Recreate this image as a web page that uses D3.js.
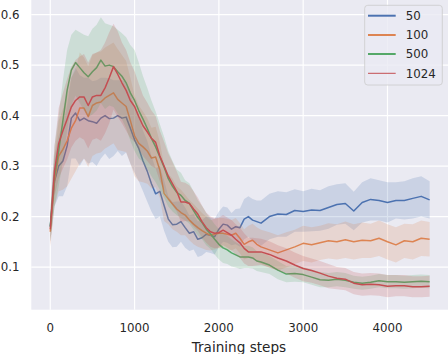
<!DOCTYPE html>
<html lang="en">
<head>
<meta charset="UTF-8">
<title>Training steps chart</title>
<script src="https://d3js.org/d3.v7.min.js"></script>
<style>
    body { margin: 0; background: #fff; overflow: hidden; }
    svg { display: block; font-family: 'DejaVu Sans', sans-serif; }
    .tick-label { fill: #262626; font-size: 11.8px; }
</style>
</head>
<body>
<script>
    // every 50 steps up to 2500, every 100 after that
    const steps = d3.range(0, 2500, 50).concat(d3.range(2500, 4501, 100));

    const series = ["50", "100", "500", "1024"];

    const mean50 = [0.18,0.27,0.30,0.31,0.34,0.395,0.405,0.39,0.395,0.39,0.388,0.385,0.395,0.40,0.394,0.395,0.40,0.395,0.397,0.375,0.352,0.335,0.31,0.29,0.265,0.245,0.25,0.222,0.195,0.184,0.185,0.19,0.178,0.167,0.17,0.155,0.158,0.165,0.163,0.16,0.175,0.185,0.183,0.175,0.18,0.178,0.195,0.2,0.193,0.19,0.187,
        0.20,0.205,0.204,0.212,0.21,0.213,0.212,0.218,0.224,0.226,0.211,0.228,0.234,0.232,0.228,0.232,0.232,0.236,0.24,0.233];
    const mean100 = [0.17,0.27,0.32,0.333,0.35,0.375,0.39,0.415,0.415,0.398,0.42,0.425,0.427,0.435,0.44,0.445,0.432,0.425,0.418,0.39,0.36,0.345,0.338,0.33,0.316,0.318,0.292,0.246,0.235,0.225,0.215,0.208,0.203,0.193,0.185,0.178,0.172,0.167,0.163,0.165,0.167,0.167,0.165,0.163,0.167,0.157,0.145,0.15,0.153,0.145,0.14,
        0.134,0.128,0.134,0.14,0.147,0.144,0.148,0.152,0.15,0.154,0.15,0.153,0.152,0.157,0.15,0.144,0.152,0.15,0.157,0.155];
    const mean500 = [0.18,0.28,0.33,0.39,0.45,0.49,0.505,0.495,0.485,0.477,0.487,0.495,0.51,0.498,0.50,0.497,0.487,0.478,0.465,0.445,0.43,0.41,0.393,0.375,0.355,0.338,0.318,0.298,0.275,0.26,0.248,0.242,0.232,0.226,0.212,0.198,0.188,0.175,0.166,0.155,0.145,0.138,0.134,0.128,0.124,0.12,0.12,0.12,0.118,0.112,0.11,
        0.104,0.094,0.086,0.087,0.085,0.08,0.075,0.074,0.076,0.074,0.07,0.068,0.07,0.073,0.071,0.071,0.07,0.071,0.072,0.071];
    const mean1024 = [0.175,0.29,0.345,0.37,0.393,0.417,0.43,0.437,0.437,0.42,0.437,0.44,0.44,0.455,0.475,0.497,0.482,0.465,0.45,0.43,0.418,0.398,0.38,0.368,0.355,0.347,0.32,0.3,0.28,0.265,0.25,0.229,0.229,0.226,0.215,0.205,0.19,0.178,0.17,0.167,0.168,0.173,0.168,0.163,0.155,0.148,0.137,0.13,0.13,0.13,0.13,
        0.125,0.118,0.112,0.104,0.097,0.093,0.088,0.082,0.078,0.076,0.068,0.065,0.066,0.065,0.062,0.063,0.063,0.061,0.061,0.062];

    // half width of the shaded band
    const sd50 = [0.03,0.05,0.06,0.07,0.08,0.08,0.09,0.09,0.08,0.085,0.08,0.085,0.08,0.075,0.08,0.075,0.07,0.075,0.07,0.07,0.065,0.065,0.06,0.06,0.055,0.05,0.05,0.05,0.045,0.045,0.045,0.04,0.04,0.035,0.035,0.035,0.035,0.035,0.035,0.035,0.035,0.035,0.035,0.032,0.035,0.038,0.04,0.04,0.042,0.042,0.045,
        0.045,0.045,0.044,0.042,0.04,0.042,0.04,0.042,0.04,0.04,0.038,0.04,0.042,0.04,0.04,0.036,0.038,0.04,0.04,0.037];
    const sd100 = [0.03,0.05,0.07,0.08,0.09,0.1,0.1,0.11,0.1,0.1,0.1,0.1,0.1,0.1,0.1,0.1,0.1,0.095,0.09,0.085,0.08,0.075,0.07,0.065,0.06,0.06,0.055,0.055,0.05,0.05,0.045,0.045,0.04,0.04,0.04,0.038,0.035,0.033,0.03,0.03,0.03,0.03,0.03,0.03,0.03,0.03,0.03,0.032,0.033,0.034,0.034,
        0.035,0.035,0.035,0.034,0.035,0.035,0.034,0.035,0.035,0.036,0.035,0.035,0.034,0.035,0.035,0.035,0.034,0.035,0.035,0.034];
    const sd500 = [0.03,0.06,0.07,0.08,0.08,0.07,0.065,0.07,0.075,0.08,0.085,0.085,0.085,0.085,0.08,0.08,0.083,0.085,0.09,0.095,0.1,0.095,0.085,0.08,0.075,0.07,0.065,0.06,0.055,0.05,0.045,0.045,0.04,0.04,0.038,0.035,0.033,0.032,0.03,0.03,0.03,0.03,0.028,0.027,0.025,0.024,0.022,0.022,0.021,0.02,0.02,
        0.018,0.018,0.016,0.016,0.015,0.015,0.015,0.014,0.014,0.014,0.013,0.013,0.013,0.013,0.013,0.013,0.013,0.013,0.013,0.013];
    const sd1024 = [0.03,0.05,0.07,0.075,0.08,0.08,0.08,0.08,0.085,0.085,0.085,0.085,0.09,0.09,0.09,0.085,0.085,0.08,0.08,0.075,0.07,0.065,0.06,0.058,0.055,0.052,0.05,0.048,0.045,0.043,0.04,0.04,0.038,0.036,0.035,0.033,0.032,0.03,0.03,0.03,0.03,0.03,0.03,0.03,0.03,0.03,0.03,0.028,0.028,0.027,0.026,
        0.026,0.025,0.025,0.025,0.025,0.024,0.024,0.024,0.022,0.022,0.022,0.022,0.022,0.022,0.022,0.021,0.021,0.021,0.021,0.021];

    const xTicks = [0, 1000, 2000, 3000, 4000];
    const yTicks = [0.1, 0.2, 0.3, 0.4, 0.5, 0.6];

    const means = [mean50, mean100, mean500, mean1024];
    const sds = [sd50, sd100, sd500, sd1024];
    const colors = ["#4c72b0", "#dd8452", "#55a868", "#c44e52"];

    const width = 448, height = 354;
    const plot = { left: 31.3, right: 448.6, top: 0, bottom: 309.7 };

    const x = d3.scaleLinear().domain([-225, 4725]).range([plot.left, plot.right]);
    const y = d3.scaleLinear().domain([0.0155, 0.629]).range([plot.bottom, plot.top]);

    const svg = d3.select("body").append("svg")
        .attr("width", width)
        .attr("height", height);

    svg.append("rect")
        .attr("x", plot.left).attr("y", plot.top)
        .attr("width", plot.right - plot.left)
        .attr("height", plot.bottom - plot.top)
        .attr("fill", "#eaeaf2");

    // grid
    svg.append("g").selectAll("line")
        .data(xTicks).join("line")
        .attr("x1", d => x(d)).attr("x2", d => x(d))
        .attr("y1", plot.top).attr("y2", plot.bottom)
        .attr("stroke", "#fff").attr("stroke-width", 1.2);

    svg.append("g").selectAll("line")
        .data(yTicks).join("line")
        .attr("x1", plot.left).attr("x2", plot.right)
        .attr("y1", d => y(d)).attr("y2", d => y(d))
        .attr("stroke", "#fff").attr("stroke-width", 1.2);

    // bands and lines
    const chart = svg.append("g");
    means.forEach((m, i) => {
        const rows = steps.map((s, j) => ({ s, v: m[j], sd: sds[i][j] }));
        const area = d3.area()
            .x(d => x(d.s))
            .y0(d => y(d.v - d.sd))
            .y1(d => y(d.v + d.sd));
        const line = d3.line()
            .x(d => x(d.s))
            .y(d => y(d.v));
        chart.append("path")
            .datum(rows)
            .attr("d", area)
            .attr("fill", colors[i])
            .attr("fill-opacity", 0.2);
        chart.append("path")
            .datum(rows)
            .attr("d", line)
            .attr("fill", "none")
            .attr("stroke", colors[i])
            .attr("stroke-width", 1.5)
            .attr("stroke-linejoin", "round");
    });

    // tick labels
    svg.append("g").selectAll("text")
        .data(xTicks).join("text")
        .attr("class", "tick-label")
        .attr("x", d => x(d))
        .attr("y", 332)
        .attr("text-anchor", "middle")
        .text(d => d);

    svg.append("g").selectAll("text")
        .data(yTicks).join("text")
        .attr("class", "tick-label")
        .attr("x", 19.5)
        .attr("y", d => y(d))
        .attr("dy", "0.36em")
        .attr("text-anchor", "end")
        .text(d => d.toFixed(1));

    svg.append("text")
        .attr("x", (plot.left + plot.right) / 2 - 1)
        .attr("y", 351.5)
        .attr("text-anchor", "middle")
        .attr("fill", "#262626")
        .attr("font-size", "13.6px")
        .text("Training steps");

    // legend
    const legend = svg.append("g");
    legend.append("rect")
        .attr("x", 364.7).attr("y", 5.3)
        .attr("width", 77.6).attr("height", 79.7)
        .attr("rx", 3)
        .attr("fill", "#eaeaf2").attr("fill-opacity", 0.8)
        .attr("stroke", "#cccccc").attr("stroke-width", 0.8);

    const legendRows = [15.7, 35, 54, 73.3];
    series.forEach((name, i) => {
        legend.append("line")
            .attr("x1", 368).attr("x2", 395.7)
            .attr("y1", legendRows[i]).attr("y2", legendRows[i])
            .attr("stroke", colors[i])
            .attr("stroke-width", i === 3 ? 1 : 2);
        legend.append("text")
            .attr("class", "tick-label")
            .attr("x", 405.7)
            .attr("y", legendRows[i])
            .attr("dy", "0.36em")
            .text(name);
    });
</script>
</body>
</html>
